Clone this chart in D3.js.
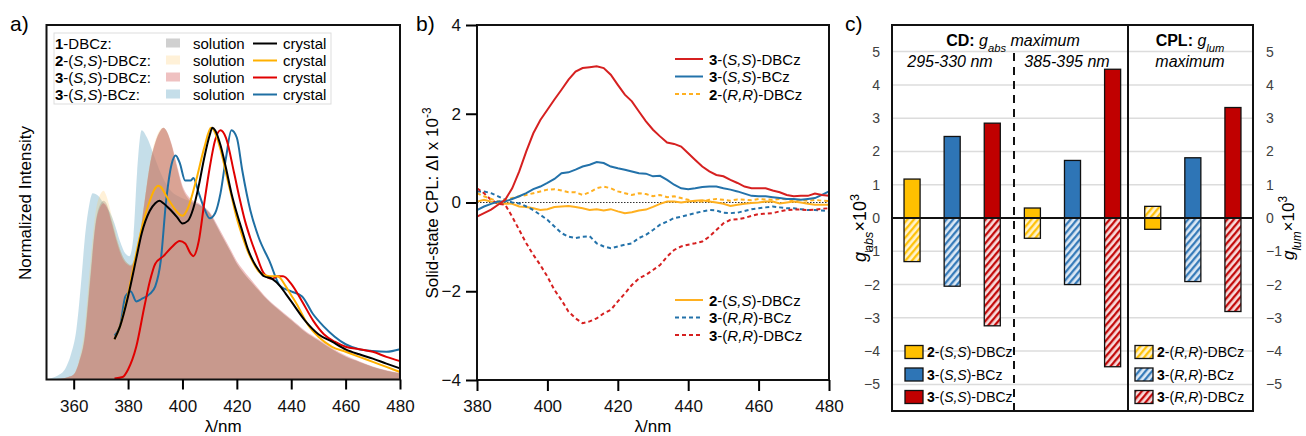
<!DOCTYPE html>
<html>
  <head>
    <style>
     body{ margin: 0; background-color: white; }
     text{ font-family: "Liberation Sans", Arial, sans-serif; }
    </style>
    <script src="https://d3js.org/d3.v7.min.js"></script>
    <title>CPL figure</title>
  </head>
  <body>
    <script>
    // ---- panel a : emission, normalized ----
    const solDBCz1 = [[350,0],[355,0.003],[358,0.01],[360,0.02],[362,0.07],[364,0.17],[366,0.40],[368,0.62],[370,0.70],[371,0.71],[372,0.70],[374,0.63],[376,0.55],[378,0.49],[380,0.46],[381,0.455],[382,0.47],[384,0.55],[386,0.70],[388,0.85],[390,0.94],[392,0.99],[393,1.0],[394,0.99],[396,0.93],[398,0.84],[400,0.76],[402,0.72],[404,0.70],[406,0.695],[408,0.68],[410,0.66],[412,0.62],[414,0.58],[416,0.54],[418,0.50],[420,0.46],[422,0.43],[425,0.39],[428,0.355],[430,0.33],[435,0.28],[440,0.235],[445,0.19],[450,0.155],[455,0.12],[460,0.09],[465,0.07],[470,0.05],[475,0.035],[480,0.024]];
    const solDBCz2 = [[350,0],[355,0.003],[358,0.01],[360,0.02],[362,0.08],[364,0.2],[366,0.45],[368,0.66],[370,0.74],[371,0.75],[372,0.73],[374,0.65],[376,0.56],[378,0.49],[380,0.46],[381,0.455],[382,0.47],[384,0.56],[386,0.71],[388,0.86],[390,0.95],[392,0.995],[393,1.0],[394,0.99],[396,0.93],[398,0.84],[400,0.76],[402,0.72],[404,0.70],[406,0.69],[408,0.675],[410,0.655],[412,0.62],[414,0.58],[416,0.54],[418,0.50],[420,0.46],[422,0.43],[425,0.39],[428,0.355],[430,0.33],[435,0.28],[440,0.235],[445,0.19],[450,0.155],[455,0.12],[460,0.09],[465,0.07],[470,0.05],[475,0.035],[480,0.024]];
    const solDBCz3 = [[350,0],[355,0.003],[358,0.01],[360,0.02],[362,0.07],[364,0.16],[366,0.38],[368,0.61],[370,0.69],[371,0.70],[372,0.69],[374,0.62],[376,0.54],[378,0.48],[380,0.455],[381,0.45],[382,0.465],[384,0.55],[386,0.70],[388,0.85],[390,0.94],[392,0.99],[393,1.0],[394,0.99],[396,0.935],[398,0.85],[400,0.77],[402,0.73],[404,0.71],[406,0.70],[408,0.685],[410,0.665],[412,0.63],[414,0.59],[416,0.55],[418,0.51],[420,0.47],[422,0.44],[425,0.40],[428,0.36],[430,0.335],[435,0.285],[440,0.24],[445,0.195],[450,0.16],[455,0.125],[460,0.095],[465,0.072],[470,0.052],[475,0.037],[480,0.026]];
    const solBCz = [[350,0],[351,0.003],[354,0.015],[357,0.045],[359,0.10],[361,0.20],[363,0.42],[364,0.55],[365.5,0.68],[367,0.74],[369,0.73],[371,0.70],[373.5,0.66],[375,0.62],[377,0.55],[379,0.50],[380.5,0.49],[382,0.57],[383.3,0.82],[385,0.99],[387,0.96],[389.5,0.89],[392,0.82],[395,0.76],[400,0.72],[405,0.70],[410,0.66],[414,0.58],[418,0.50],[420,0.46],[425,0.39],[430,0.33],[435,0.28],[440,0.235],[445,0.19],[450,0.155],[455,0.12],[460,0.09],[465,0.07],[470,0.05],[475,0.035],[480,0.025]];

    const cry1 = [[375,0.16],[377,0.21],[380,0.33],[383,0.48],[385,0.58],[388,0.67],[390,0.70],[391.5,0.71],[393,0.70],[395,0.68],[398,0.645],[400,0.62],[402,0.63],[404,0.68],[406,0.77],[408,0.88],[410,0.97],[411,1.0],[412,0.99],[414,0.93],[416,0.84],[418,0.74],[420,0.66],[422,0.59],[424,0.52],[426,0.47],[428,0.435],[430,0.41],[433,0.40],[436,0.37],[438,0.34],[440,0.31],[445,0.235],[450,0.18],[455,0.15],[460,0.12],[465,0.10],[470,0.083],[475,0.063],[480,0.044]];
    const cry2 = [[375,0.16],[377,0.21],[380,0.34],[383,0.50],[385,0.60],[388,0.71],[390,0.76],[391,0.77],[392,0.765],[394,0.73],[397,0.68],[399,0.655],[400,0.65],[402,0.68],[405,0.79],[408,0.92],[410.5,1.0],[412,0.98],[413,0.95],[415,0.87],[416,0.82],[418,0.73],[420,0.64],[422,0.57],[424,0.51],[426,0.465],[428,0.43],[430,0.415],[432,0.41],[435,0.41],[438,0.37],[440,0.335],[442,0.30],[446,0.22],[450,0.17],[455,0.13],[460,0.11],[465,0.09],[470,0.07],[475,0.05],[480,0.03]];
    const cry3 = [[375,0.004],[378,0.01],[380,0.04],[383,0.13],[386,0.29],[388,0.39],[390,0.46],[393,0.49],[396,0.525],[399,0.55],[401,0.54],[403,0.50],[404,0.49],[406,0.55],[408,0.70],[410,0.84],[412,0.95],[414,0.99],[416,0.96],[419,0.82],[421,0.72],[423,0.63],[425,0.56],[427,0.50],[430,0.42],[433,0.40],[435,0.41],[437,0.41],[440,0.38],[444,0.31],[448,0.235],[452,0.18],[456,0.15],[460,0.13],[465,0.12],[470,0.11],[475,0.09],[480,0.073]];
    const cryB = [[375,0.175],[377,0.21],[379,0.33],[381,0.35],[383,0.31],[385,0.32],[388,0.34],[390,0.37],[392,0.47],[394,0.71],[396,0.855],[397.5,0.89],[399,0.86],[401,0.79],[403,0.79],[404,0.80],[406,0.74],[408,0.68],[410,0.64],[412,0.66],[414,0.74],[416,0.88],[418,0.99],[420,0.96],[422,0.83],[425,0.67],[428,0.565],[432,0.47],[436,0.37],[440,0.35],[444,0.33],[448,0.26],[452,0.21],[456,0.17],[460,0.14],[465,0.12],[470,0.113],[475,0.11],[480,0.12]];
    const aTicks = [360, 380, 400, 420, 440, 460, 480];

    // ---- panel b : solid-state CPL ----
    const bWave = d3.range(380, 481, 2);
    const bRedSS = [-0.32,-0.24,-0.16,-0.05,0.06,0.32,0.70,1.15,1.56,1.86,2.09,2.32,2.54,2.77,2.95,3.03,3.05,3.07,3.03,2.88,2.65,2.43,2.28,2.05,1.83,1.64,1.49,1.35,1.32,1.26,1.11,0.96,0.81,0.70,0.62,0.59,0.51,0.44,0.36,0.32,0.32,0.32,0.27,0.23,0.17,0.14,0.15,0.15,0.20,0.17,0.15];
    const bBlueSS = [-0.17,-0.09,-0.03,0.02,0.02,0.08,0.14,0.21,0.30,0.36,0.44,0.53,0.66,0.68,0.74,0.81,0.85,0.91,0.89,0.81,0.77,0.74,0.70,0.66,0.65,0.59,0.60,0.51,0.40,0.32,0.30,0.32,0.35,0.36,0.36,0.32,0.29,0.25,0.20,0.15,0.14,0.14,0.12,0.10,0.08,0.08,0.06,0.08,0.10,0.17,0.25];
    const bOrangeRR = [0.21,0.14,0.08,0.02,0.06,0.10,0.14,0.17,0.21,0.25,0.29,0.30,0.27,0.23,0.23,0.17,0.23,0.32,0.36,0.32,0.25,0.21,0.17,0.21,0.19,0.14,0.17,0.12,0.14,0.10,0.06,0.02,0.02,0.06,0.08,0.06,0.04,0.07,0.06,0.05,0.08,0.07,0.06,0.08,0.07,0.05,0.06,0.04,0.06,0.04,0.03];
    const bOrangeSS = [0.02,0.06,0.02,-0.03,-0.02,-0.03,-0.09,-0.10,-0.13,-0.17,-0.15,-0.10,-0.09,-0.08,-0.10,-0.13,-0.17,-0.15,-0.18,-0.15,-0.20,-0.24,-0.22,-0.18,-0.16,-0.10,-0.03,0.02,0.02,0.0,0.02,0.04,0.05,0.02,0.0,-0.03,-0.08,-0.05,-0.03,-0.01,0.0,0.02,0.02,-0.02,0.0,0.02,0.0,-0.03,-0.05,-0.05,-0.05];
    const bBlueRR = [0.25,0.25,0.21,0.14,0.06,0.0,-0.02,-0.09,-0.17,-0.28,-0.39,-0.54,-0.69,-0.77,-0.80,-0.77,-0.76,-0.92,-0.99,-1.03,-0.99,-0.95,-0.92,-0.80,-0.73,-0.62,-0.50,-0.43,-0.35,-0.32,-0.28,-0.24,-0.20,-0.17,-0.18,-0.23,-0.24,-0.23,-0.19,-0.15,-0.13,-0.11,-0.09,-0.11,-0.13,-0.13,-0.15,-0.17,-0.17,-0.18,-0.20];
    const bRedRR = [0.32,0.21,0.06,-0.03,-0.05,-0.32,-0.62,-0.92,-1.18,-1.41,-1.67,-1.97,-2.20,-2.46,-2.61,-2.72,-2.68,-2.61,-2.50,-2.42,-2.23,-2.05,-1.86,-1.71,-1.63,-1.52,-1.41,-1.22,-1.07,-0.99,-0.95,-0.92,-0.88,-0.77,-0.62,-0.47,-0.39,-0.38,-0.35,-0.30,-0.26,-0.25,-0.24,-0.20,-0.17,-0.16,-0.16,-0.17,-0.16,-0.14,-0.13];
    const bXTicks = [380, 400, 420, 440, 460, 480];
    const bYTicks = [-4, -2, 0, 2, 4];

    // ---- panel c : dissymmetry factors ----
    const cSlots = ["cd1-2DBCz","cd1-3BCz","cd1-3DBCz","cd2-2DBCz","cd2-3BCz","cd2-3DBCz","cpl-2DBCz","cpl-3BCz","cpl-3DBCz"];
    const cCompound = ["2DBCz","3BCz","3DBCz","2DBCz","3BCz","3DBCz","2DBCz","3BCz","3DBCz"];
    const cPosValues = [1.17, 2.45, 2.85, 0.30, 1.73, 4.47, 0.35, 1.81, 3.32];
    const cPosForm = ["SS","SS","SS","SS","SS","SS","RR","SS","SS"];
    const cNegValues = [-1.31, -2.05, -3.24, -0.61, -2.00, -4.47, -0.34, -1.91, -2.81];
    const cNegForm = ["RR","RR","RR","RR","RR","RR","SS","RR","RR"];
    const cYTicks = [-5,-4,-3,-2,-1,0,1,2,3,4,5];

    const svg = d3.select("body").append("svg")
      .attr("width", 1306).attr("height", 436);

    function richText(sel, parts) {
      parts.forEach(p => {
        const t = sel.append("tspan").text(p[0]);
        if (p[1]) t.attr("font-weight", p[1].includes("b") ? "bold" : null)
                   .attr("font-style", p[1].includes("i") ? "italic" : null);
        if (p[2]) t.attr("baseline-shift", p[2]).attr("font-size", "70%");
      });
      return sel;
    }
    function nameParts(num, form, tail) {
      return [[num, "b"], ["-("], [form, "i"], [")-" + tail]];
    }

    // ================= panel a =================
    const ax = d3.scaleLinear().domain([350, 480]).range([46.5, 400]);
    const ay = d3.scaleLinear().domain([0, 1.4]).range([379.5, 27]);
    const aArea = d3.area().x(d => ax(d[0])).y0(ay(0)).y1(d => ay(d[1])).curve(d3.curveMonotoneX);
    const aLine = d3.line().x(d => ax(d[0])).y(d => ay(d[1])).curve(d3.curveMonotoneX);

    const solSeries = [
      {data: solBCz, color: "rgb(150,195,215)", op: 0.55},
      {data: solDBCz1, color: "rgb(110,110,110)", op: 0.32},
      {data: solDBCz2, color: "rgb(255,200,100)", op: 0.25},
      {data: solDBCz3, color: "rgb(215,100,100)", op: 0.4}
    ];
    const ga = svg.append("g");
    solSeries.forEach(s => {
      ga.append("path").attr("d", aArea(s.data)).attr("fill", s.color).attr("fill-opacity", s.op);
    });
    const crySeries = [
      {data: cryB, color: "#1f6fa3"},
      {data: cry3, color: "#e00000"},
      {data: cry2, color: "#ffb000"},
      {data: cry1, color: "#000000"}
    ];
    crySeries.forEach(s => {
      ga.append("path").attr("d", aLine(s.data)).attr("fill", "none")
        .attr("stroke", s.color).attr("stroke-width", 2);
    });
    ga.append("rect").attr("x", 46.5).attr("y", 25).attr("width", 353.5).attr("height", 354.5)
      .attr("fill", "none").attr("stroke", "#111").attr("stroke-width", 2);
    const aXAxis = ga.append("g").attr("transform", "translate(0,379.5)")
      .call(d3.axisBottom(ax).tickValues(aTicks).tickSize(10).tickPadding(10));
    aXAxis.select(".domain").remove();
    aXAxis.selectAll("line").attr("stroke-width", 2);
    aXAxis.selectAll("text").attr("font-size", 17).attr("fill", "#111");
    ga.append("text").attr("x", ax(415)).attr("y", 432).attr("text-anchor", "middle")
      .attr("font-size", 17).text("λ/nm");
    ga.append("text").attr("transform", "translate(31,203) rotate(-90)").attr("text-anchor", "middle")
      .attr("font-size", 17).text("Normalized Intensity");
    ga.append("text").attr("x", 10).attr("y", 31).attr("font-size", 21).text("a)");

    // legend a
    const legA = ga.append("g");
    legA.append("rect").attr("x", 54).attr("y", 33).attr("width", 277).attr("height", 71)
      .attr("fill", "white").attr("stroke", "#dddddd");
    const legARows = [
      {name: [["1", "b"], ["-DBCz:"]], sw: solSeries[1], line: crySeries[3].color},
      {name: nameParts("2", "S,S", "DBCz:"), sw: solSeries[2], line: crySeries[2].color},
      {name: nameParts("3", "S,S", "DBCz:"), sw: solSeries[3], line: crySeries[1].color},
      {name: nameParts("3", "S,S", "BCz:"), sw: solSeries[0], line: crySeries[0].color}
    ];
    legARows.forEach((r, i) => {
      const cy = 43.5 + i * 17;
      richText(legA.append("text").attr("x", 55).attr("y", cy + 5).attr("font-size", 15), r.name);
      legA.append("rect").attr("x", 166).attr("y", cy - 5).attr("width", 14).attr("height", 9)
        .attr("fill", r.sw.color).attr("fill-opacity", r.sw.op);
      legA.append("text").attr("x", 193).attr("y", cy + 5).attr("font-size", 15).text("solution");
      legA.append("line").attr("x1", 253).attr("x2", 277).attr("y1", cy).attr("y2", cy)
        .attr("stroke", r.line).attr("stroke-width", 2);
      legA.append("text").attr("x", 283).attr("y", cy + 5).attr("font-size", 15).text("crystal");
    });

    // ================= panel b =================
    const bx = d3.scaleLinear().domain([380, 480]).range([477, 829]);
    const by = d3.scaleLinear().domain([-4, 4]).range([380, 25]);
    const gb = svg.append("g");
    const bLine = d3.line().x((d, i) => bx(bWave[i])).y(d => by(d));
    gb.append("line").attr("x1", 477).attr("x2", 829).attr("y1", by(0)).attr("y2", by(0))
      .attr("stroke", "#333").attr("stroke-width", 1.2).attr("stroke-dasharray", "1.5,1.5");
    const bSeries = [
      {data: bOrangeSS, color: "#ffb020", dash: null, label: nameParts("2", "S,S", "DBCz")},
      {data: bBlueRR, color: "#2372aa", dash: "4,3", label: nameParts("3", "R,R", "BCz")},
      {data: bRedRR, color: "#d62020", dash: "4,3", label: nameParts("3", "R,R", "DBCz")},
      {data: bOrangeRR, color: "#ffb020", dash: "4,3", label: nameParts("2", "R,R", "DBCz")},
      {data: bBlueSS, color: "#2372aa", dash: null, label: nameParts("3", "S,S", "BCz")},
      {data: bRedSS, color: "#d62020", dash: null, label: nameParts("3", "S,S", "DBCz")}
    ];
    bSeries.forEach(s => {
      gb.append("path").attr("d", bLine(s.data)).attr("fill", "none")
        .attr("stroke", s.color).attr("stroke-width", 2).attr("stroke-dasharray", s.dash);
    });
    gb.append("rect").attr("x", 477).attr("y", 25).attr("width", 352).attr("height", 355)
      .attr("fill", "none").attr("stroke", "#111").attr("stroke-width", 2);
    const bXAxis = gb.append("g").attr("transform", "translate(0,380)")
      .call(d3.axisBottom(bx).tickValues(bXTicks).tickSize(11).tickPadding(9));
    const bYAxis = gb.append("g").attr("transform", "translate(477,0)")
      .call(d3.axisLeft(by).tickValues(bYTicks).tickSize(11).tickPadding(5));
    [bXAxis, bYAxis].forEach(a => {
      a.select(".domain").remove();
      a.selectAll("line").attr("stroke-width", 2);
      a.selectAll("text").attr("font-size", 17).attr("fill", "#111");
    });
    gb.append("text").attr("x", bx(430)).attr("y", 432).attr("text-anchor", "middle")
      .attr("font-size", 17).text("λ/nm");
    richText(gb.append("text").attr("transform", "translate(438,203) rotate(-90)")
      .attr("text-anchor", "middle").attr("font-size", 17),
      [["Solid-state CPL: ΔI x 10"], ["-3", null, "super"]]);
    gb.append("text").attr("x", 416).attr("y", 31).attr("font-size", 21).text("b)");
    const legBTop = [bSeries[5], bSeries[4], bSeries[3]];
    const legBBot = [bSeries[0], bSeries[1], bSeries[2]];
    [[legBTop, 59], [legBBot, 300]].forEach(([rows, y0]) => {
      rows.forEach((s, i) => {
        const cy = y0 + i * 17.5;
        gb.append("line").attr("x1", 675).attr("x2", 703).attr("y1", cy).attr("y2", cy)
          .attr("stroke", s.color).attr("stroke-width", 2).attr("stroke-dasharray", s.dash);
        richText(gb.append("text").attr("x", 709).attr("y", cy + 5.5).attr("font-size", 15), s.label);
      });
    });

    // ================= panel c =================
    const cx = d3.scaleBand().domain(cSlots).range([892, 1253]).paddingInner(0.6).paddingOuter(0.3);
    const cy = d3.scaleLinear().domain([-5.8, 5.8]).range([411, 25]);
    const gc = svg.append("g");
    const cColors = {"2DBCz": "#ffc000", "3BCz": "#2e75b6", "3DBCz": "#c00000"};
    const cTints = {"2DBCz": "#fff3cf", "3BCz": "#dde9f5", "3DBCz": "#f8dcdc"};
    const defs = svg.append("defs");
    Object.keys(cColors).forEach(k => {
      const p = defs.append("pattern").attr("id", "hatch-" + k).attr("patternUnits", "userSpaceOnUse")
        .attr("width", 5).attr("height", 5).attr("patternTransform", "rotate(40)");
      p.append("rect").attr("width", 5).attr("height", 5).attr("fill", cTints[k]);
      p.append("line").attr("x1", 1.2).attr("x2", 1.2).attr("y1", 0).attr("y2", 5)
        .attr("stroke", cColors[k]).attr("stroke-width", 2.2);
    });
    const fillFor = (comp, form) => form === "SS" ? cColors[comp] : "url(#hatch-" + comp + ")";

    gc.selectAll(".grid").data(cYTicks.filter(d => d !== 0)).enter().append("line")
      .attr("x1", 892).attr("x2", 1253).attr("y1", d => cy(d)).attr("y2", d => cy(d))
      .attr("stroke", "#dcdcdc").attr("stroke-width", 1.5);

    const cBars = cSlots.map((s, i) => ({slot: s, comp: cCompound[i], pos: cPosValues[i], posForm: cPosForm[i],
      neg: cNegValues[i], negForm: cNegForm[i]}));
    gc.selectAll(".pos").data(cBars).enter().append("rect")
      .attr("x", d => cx(d.slot)).attr("width", cx.bandwidth())
      .attr("y", d => cy(d.pos)).attr("height", d => cy(0) - cy(d.pos))
      .attr("fill", d => fillFor(d.comp, d.posForm)).attr("stroke", "#111").attr("stroke-width", 1.3);
    gc.selectAll(".neg").data(cBars).enter().append("rect")
      .attr("x", d => cx(d.slot)).attr("width", cx.bandwidth())
      .attr("y", cy(0)).attr("height", d => cy(d.neg) - cy(0))
      .attr("fill", d => fillFor(d.comp, d.negForm)).attr("stroke", "#111").attr("stroke-width", 1.3);

    gc.append("line").attr("x1", 892).attr("x2", 1253).attr("y1", cy(0)).attr("y2", cy(0))
      .attr("stroke", "#111").attr("stroke-width", 2);
    gc.append("line").attr("x1", 1128).attr("x2", 1128).attr("y1", 25).attr("y2", 411)
      .attr("stroke", "#111").attr("stroke-width", 2);
    gc.append("line").attr("x1", 1014).attr("x2", 1014).attr("y1", 53).attr("y2", 411)
      .attr("stroke", "#111").attr("stroke-width", 2).attr("stroke-dasharray", "8,6");
    gc.append("rect").attr("x", 892).attr("y", 25).attr("width", 361).attr("height", 386)
      .attr("fill", "none").attr("stroke", "#111").attr("stroke-width", 2);

    const cL = gc.append("g").attr("transform", "translate(892,0)")
      .call(d3.axisLeft(cy).tickValues(cYTicks).tickSize(0).tickPadding(12));
    const cR = gc.append("g").attr("transform", "translate(1253,0)")
      .call(d3.axisRight(cy).tickValues(cYTicks).tickSize(0).tickPadding(13));
    [cL, cR].forEach(a => {
      a.select(".domain").remove();
      a.selectAll("text").attr("font-size", 14).attr("fill", "#404040");
    });

    richText(gc.append("text").attr("x", 1013).attr("y", 46).attr("text-anchor", "middle").attr("font-size", 16),
      [["CD: ", "b"], ["g", "i"], ["abs", "i", "sub"], [" maximum", "i"]]);
    richText(gc.append("text").attr("x", 1190).attr("y", 46).attr("text-anchor", "middle").attr("font-size", 16),
      [["CPL: ", "b"], ["g", "i"], ["lum", "i", "sub"]]);
    gc.append("text").attr("x", 1190).attr("y", 67).attr("text-anchor", "middle").attr("font-size", 16)
      .attr("font-style", "italic").text("maximum");
    gc.append("text").attr("x", 950).attr("y", 67).attr("text-anchor", "middle").attr("font-size", 16)
      .attr("font-style", "italic").text("295-330 nm");
    gc.append("text").attr("x", 1067).attr("y", 67).attr("text-anchor", "middle").attr("font-size", 16)
      .attr("font-style", "italic").text("385-395 nm");

    richText(gc.append("text").attr("transform", "translate(866,228) rotate(-90)")
      .attr("text-anchor", "middle").attr("font-size", 18),
      [["g", "i"], ["abs", "i", "sub"], ["×10"], ["3", null, "super"]]);
    richText(gc.append("text").attr("transform", "translate(1294,228) rotate(-90)")
      .attr("text-anchor", "middle").attr("font-size", 17),
      [["g", "i"], ["lum", "i", "sub"], ["×10"], ["3", null, "super"]]);
    gc.append("text").attr("x", 845).attr("y", 31).attr("font-size", 21).text("c)");

    const legC = [
      {x: 905, form: "SS"}, {x: 1135, form: "RR"}
    ];
    const legCComps = [["2", "DBCz", "2DBCz"], ["3", "BCz", "3BCz"], ["3", "DBCz", "3DBCz"]];
    legC.forEach(l => {
      legCComps.forEach((c, i) => {
        const yy = 352 + i * 22.5;
        gc.append("rect").attr("x", l.x).attr("y", yy - 6.5).attr("width", 18).attr("height", 13)
          .attr("fill", fillFor(c[2], l.form)).attr("stroke", "#111").attr("stroke-width", 1.3);
        richText(gc.append("text").attr("x", l.x + 22).attr("y", yy + 5).attr("font-size", 14),
          nameParts(c[0], l.form === "SS" ? "S,S" : "R,R", c[1]));
      });
    });
    </script>
  </body>
</html>
